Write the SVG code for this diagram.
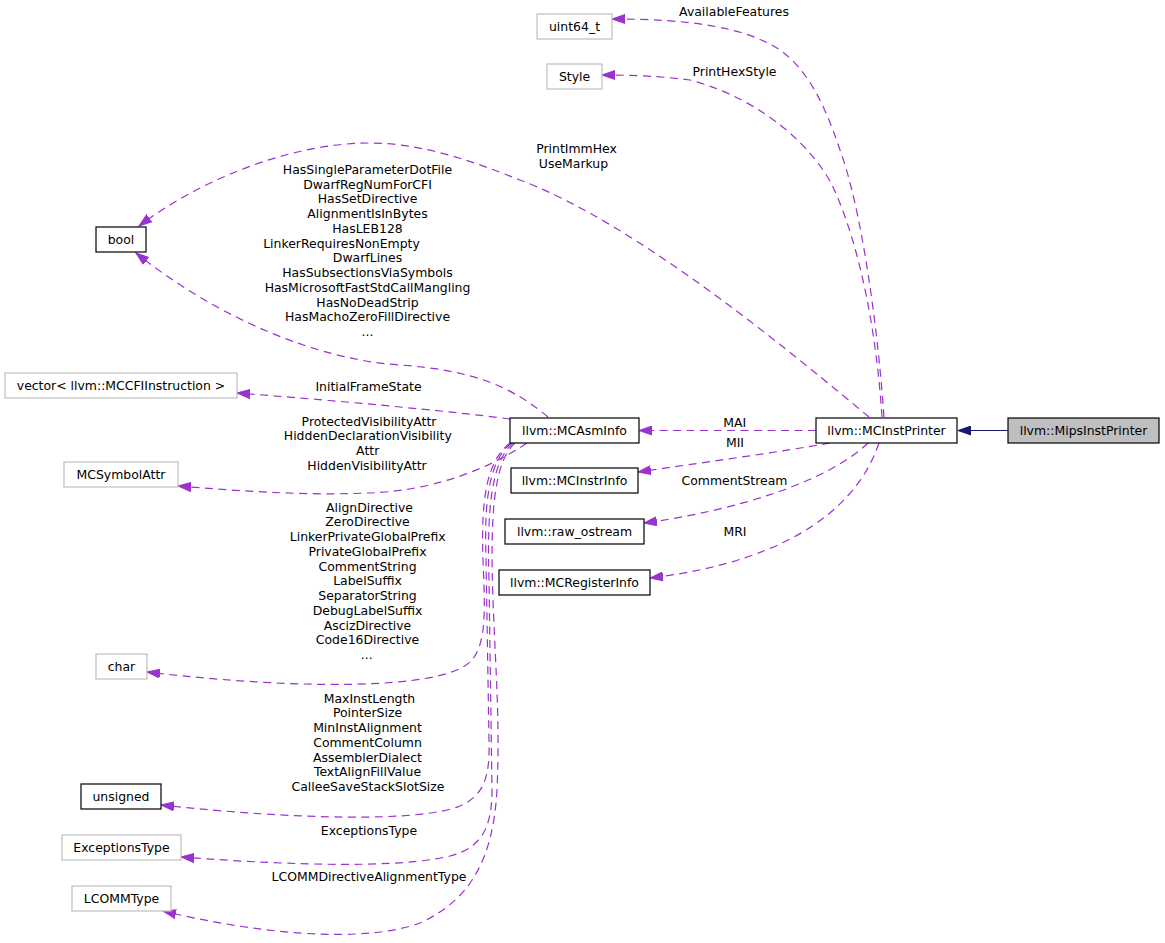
<svg xmlns="http://www.w3.org/2000/svg" width="1165" height="943" viewBox="0 0 1165 943">
<style>
text{font-family:"DejaVu Sans","Liberation Sans",sans-serif;font-size:12.45px;fill:#000;text-anchor:middle}
.ng rect{fill:#fff;stroke:#bfbfbf;stroke-width:1.2}
.nb rect{fill:#fff;stroke:#000;stroke-width:1.2}
.nm rect{fill:#bfbfbf;stroke:#000;stroke-width:1.2}
.e{fill:none;stroke:#9a32cd;stroke-width:1.2;stroke-dasharray:8,5.5;marker-end:url(#ap)}
.inh{fill:none;stroke:#191970;stroke-width:1.2;marker-end:url(#ab)}
</style>
<defs>
<marker id="ap" markerWidth="14" markerHeight="10" refX="13" refY="5" orient="auto" markerUnits="userSpaceOnUse"><path d="M0,0.5 L13,5 L0,9.5 z" fill="#9a32cd" stroke="#9a32cd" stroke-width="1" stroke-dasharray="none"/></marker>
<marker id="ab" markerWidth="14" markerHeight="10" refX="13" refY="5" orient="auto" markerUnits="userSpaceOnUse"><path d="M0,0.5 L13,5 L0,9.5 z" fill="#191970" stroke="#191970" stroke-width="1" stroke-dasharray="none"/></marker>
</defs>
<g id="edges">
<path class="inh" d="M1008,430.5 L958,430.5"/>
<path class="e" d="M884,417 C878,330 862,210 840,150 C825,105 808,70 780,50 C745,27 690,19 612,19"/>
<path class="e" d="M882,417 C877,340 862,250 833,187 C815,150 765,100 690,80 C660,76 630,75 602,75"/>
<path class="e" d="M869,417 C800,360 640,225 520,180 C470,160 420,143 370,143 C290,143 200,180 139,226"/>
<path class="e" d="M816,430.5 L639,430.5"/>
<path class="e" d="M830,443 C780,452 700,463 638,472"/>
<path class="e" d="M868,443 C830,480 740,510 644,523"/>
<path class="e" d="M879,443 C860,500 800,560 650,578"/>
<path class="e" d="M548,417 C510,385 470,370 400,365 C320,360 220,320 136,253"/>
<path class="e" d="M510,419 C450,411 330,400 237,393"/>
<path class="e" d="M527,443 C480,475 420,492 367,493 C300,496 230,490 178,486"/>
<path class="e" d="M510,443 C486,462 481,500 483,560 C485,610 487,645 470,662 C440,690 300,690 147,672"/>
<path class="e" d="M511,443 C489,462 484,500 486,560 L489,740 C490,775 485,795 460,806 C420,822 300,820 161,805"/>
<path class="e" d="M513,443 C491,462 487,510 489,580 L492,790 C492,830 480,848 450,856 C400,868 300,866 181,857"/>
<path class="e" d="M515,443 C493,462 490,520 493,600 C496,680 500,720 497,790 C493,860 470,900 420,923 C360,945 250,932 163,911"/>
</g>
<g id="edge-labels">
<text x="734" y="15.5">AvailableFeatures</text>
<text x="734.5" y="75.5">PrintHexStyle</text>
<text x="576.5" y="152.5">PrintImmHex</text>
<text x="573.5" y="167.5">UseMarkup</text>
<text x="734.7" y="426.5">MAI</text>
<text x="735" y="446.5">MII</text>
<text x="734.5" y="484.5">CommentStream</text>
<text x="735" y="535.5">MRI</text>
<text x="367.5" y="173.8">HasSingleParameterDotFile</text>
<text x="367.5" y="188.5">DwarfRegNumForCFI</text>
<text x="367.5" y="203.3">HasSetDirective</text>
<text x="367.5" y="218">AlignmentIsInBytes</text>
<text x="367.5" y="232.8">HasLEB128</text>
<text x="341.5" y="247.5">LinkerRequiresNonEmpty</text>
<text x="367.5" y="262.3">DwarfLines</text>
<text x="367.5" y="277">HasSubsectionsViaSymbols</text>
<text x="367.5" y="291.8">HasMicrosoftFastStdCallMangling</text>
<text x="367.5" y="306.5">HasNoDeadStrip</text>
<text x="367.5" y="321.3">HasMachoZeroFillDirective</text>
<text x="367.5" y="336">...</text>
<text x="368.5" y="390.5">InitialFrameState</text>
<text x="369" y="425.5">ProtectedVisibilityAttr</text>
<text x="367.8" y="440.3">HiddenDeclarationVisibility</text>
<text x="367.7" y="455">Attr</text>
<text x="367" y="469.8">HiddenVisibilityAttr</text>
<text x="369.5" y="511.5">AlignDirective</text>
<text x="367.5" y="526.3">ZeroDirective</text>
<text x="367.7" y="541">LinkerPrivateGlobalPrefix</text>
<text x="367.5" y="555.8">PrivateGlobalPrefix</text>
<text x="367.5" y="570.5">CommentString</text>
<text x="367.5" y="585.3">LabelSuffix</text>
<text x="367.5" y="600">SeparatorString</text>
<text x="367.5" y="614.8">DebugLabelSuffix</text>
<text x="367.5" y="629.5">AscizDirective</text>
<text x="367.5" y="644.3">Code16Directive</text>
<text x="366.7" y="659">...</text>
<text x="369.5" y="702.5">MaxInstLength</text>
<text x="367.5" y="717.3">PointerSize</text>
<text x="367.5" y="732">MinInstAlignment</text>
<text x="367.5" y="746.8">CommentColumn</text>
<text x="367.5" y="761.5">AssemblerDialect</text>
<text x="367.5" y="776.3">TextAlignFillValue</text>
<text x="368" y="791">CalleeSaveStackSlotSize</text>
<text x="369" y="834.5">ExceptionsType</text>
<text x="369" y="880.5">LCOMMDirectiveAlignmentType</text>
</g>
<g id="node-uint64_t" class="ng"><rect x="537" y="14" width="75" height="25"/><text x="574.5" y="30.5">uint64_t</text></g>
<g id="node-Style" class="ng"><rect x="547" y="64" width="55" height="25"/><text x="574.5" y="80.5">Style</text></g>
<g id="node-bool" class="nb"><rect x="96" y="227" width="50" height="25"/><text x="121" y="243.5">bool</text></g>
<g id="node-vector" class="ng"><rect x="5" y="373" width="232" height="25"/><text x="121" y="389.5">vector&lt; llvm::MCCFIInstruction &gt;</text></g>
<g id="node-MCSymbolAttr" class="ng"><rect x="64" y="462" width="114" height="25"/><text x="121" y="478.5">MCSymbolAttr</text></g>
<g id="node-MCAsmInfo" class="nb"><rect x="510" y="418" width="129" height="25"/><text x="574.5" y="434.5">llvm::MCAsmInfo</text></g>
<g id="node-MCInstrInfo" class="nb"><rect x="511" y="468" width="127" height="25"/><text x="574.5" y="484.5">llvm::MCInstrInfo</text></g>
<g id="node-raw_ostream" class="nb"><rect x="505" y="519" width="139" height="25"/><text x="574.5" y="535.5">llvm::raw_ostream</text></g>
<g id="node-MCRegisterInfo" class="nb"><rect x="499" y="570" width="151" height="25"/><text x="574.5" y="586.5">llvm::MCRegisterInfo</text></g>
<g id="node-MCInstPrinter" class="nb"><rect x="816" y="418" width="141" height="25"/><text x="886.5" y="434.5">llvm::MCInstPrinter</text></g>
<g id="node-MipsInstPrinter" class="nm"><rect x="1008" y="418" width="151" height="25"/><text x="1083.5" y="434.5">llvm::MipsInstPrinter</text></g>
<g id="node-char" class="ng"><rect x="96" y="654" width="51" height="25"/><text x="121.5" y="670.5">char</text></g>
<g id="node-unsigned" class="nb"><rect x="81" y="784" width="80" height="25"/><text x="121" y="800.5">unsigned</text></g>
<g id="node-ExceptionsType" class="ng"><rect x="62" y="835" width="119" height="25"/><text x="121.5" y="851.5">ExceptionsType</text></g>
<g id="node-LCOMMType" class="ng"><rect x="72" y="886" width="99" height="25"/><text x="121.5" y="902.5">LCOMMType</text></g>
</svg>
